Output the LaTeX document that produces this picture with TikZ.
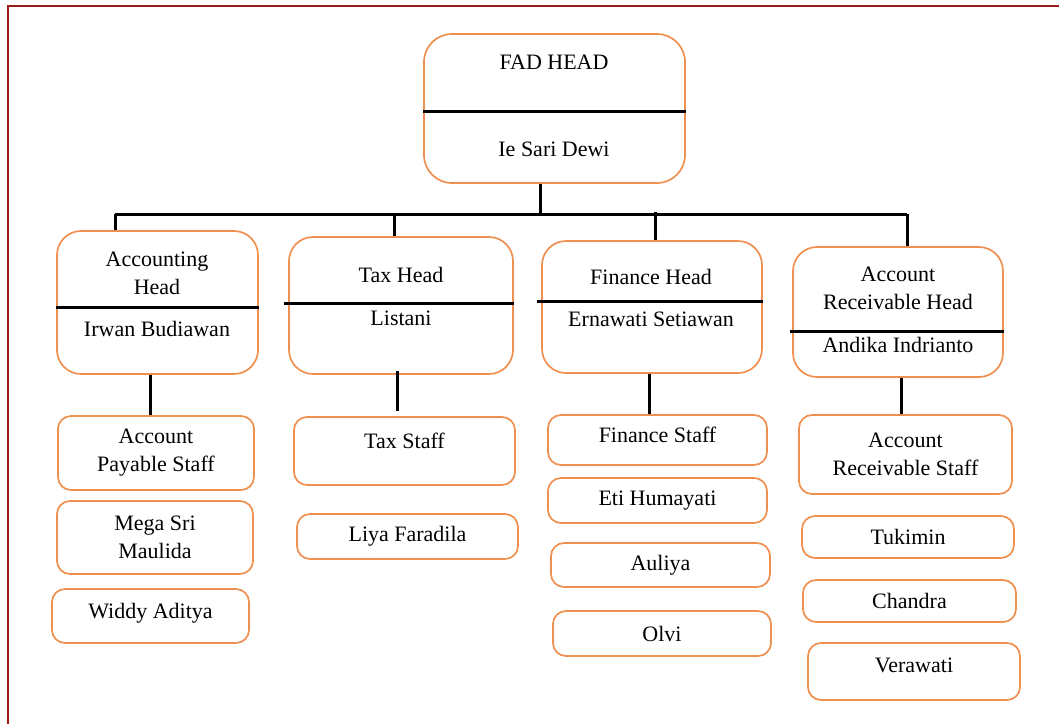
\documentclass[tikz,border=0pt]{standalone}
\usepackage{fontspec}
\setmainfont{Liberation Serif}
\usetikzlibrary{positioning, calc}

\definecolor{boxorange}{HTML}{EF8F50}
\definecolor{framered}{HTML}{9A1B1B}

\begin{document}
\begin{tikzpicture}[
    x=1pt, y=-1pt,
    font=\fontsize{22}{28}\selectfont,
    unit/.style ={draw=boxorange, line width=1.7pt, rounded corners=24pt,
                  align=center, inner sep=2pt},
    head/.style ={unit},
    staff/.style={unit, rounded corners=13pt},
    txt/.style  ={align=center, inner sep=0pt},
    link/.style ={line width=3pt, black},
    divider/.style={line width=3pt, black}
  ]
  \useasboundingbox (0,0) rectangle (1059,724);

  % ---- page frame -------------------------------------------------------
  \draw[framered, line width=2pt] (1059,6) -- (8,6) -- (8,724);

  % ---- top: FAD head ------------------------------------------------------
  \node[head, rounded corners=28pt, minimum width=261pt, minimum height=149pt]
        (fad) at (554.5,108.5) {};
  \node[txt] (fadT) at (554,62)  {FAD HEAD};
  \node[txt] (fadN) at (554,149) {Ie Sari Dewi};
  \draw[divider] (fad.west |- 0,111) -- (fad.east |- 0,111);

  % ---- row 1: department heads --------------------------------------------
  \node[head, minimum width=201pt, minimum height=143pt] (acc) at (157.5,302.5) {};
  \node[txt] (accT) at (157,273) {Accounting\\Head};
  \node[txt] (accN) at (157,329) {Irwan Budiawan};
  \draw[divider] (acc.west |- 0,307) -- (acc.east |- 0,307);

  \node[head, minimum width=224pt, minimum height=137pt] (tax) at (401,305.5) {};
  \node[txt] (taxT) at (401,275) {Tax Head};
  \node[txt] (taxN) at (401,318) {Listani};
  \draw[divider] ([xshift=-4pt]tax.west |- 0,303) -- (tax.east |- 0,303);

  \node[head, minimum width=220pt, minimum height=132pt] (fin) at (652,307) {};
  \node[txt] (finT) at (651,277) {Finance Head};
  \node[txt] (finN) at (651,319) {Ernawati Setiawan};
  \draw[divider] ([xshift=-4pt]fin.west |- 0,301) -- (fin.east |- 0,301);

  \node[head, minimum width=210pt, minimum height=130pt] (ar) at (898,312) {};
  \node[txt] (arT) at (898,288) {Account\\Receivable Head};
  \node[txt] (arN) at (898,345) {Andika Indrianto};
  \draw[divider] ([xshift=-2pt]ar.west |- 0,331) -- (ar.east |- 0,331);

  % ---- row 2+: staff ------------------------------------------------------
  \node[staff, minimum width=196pt, minimum height=74pt] (aps)   at (156,453)   {Account\\Payable Staff};
  \node[staff, minimum width=196pt, minimum height=73pt] (mega)  at (155,537.5) {Mega Sri\\Maulida};
  \node[staff, minimum width=197pt, minimum height=54pt, text depth=10pt] (widdy) at (150.5,616) {Widdy Aditya};

  \node[staff, minimum width=221pt, minimum height=68pt, text depth=21pt] (taxs) at (404.5,451) {Tax Staff};
  \node[staff, minimum width=221pt, minimum height=45pt] (liya)  at (407.5,536.5) {Liya Faradila};

  \node[staff, minimum width=219pt, minimum height=50pt, text depth=10pt] (fins) at (657.5,440) {Finance Staff};
  \node[staff, minimum width=219pt, minimum height=45pt] (eti)   at (657.5,500.5) {Eti Humayati};
  \node[staff, minimum width=219pt, minimum height=44pt] (auliya) at (660.5,565) {Auliya};
  \node[staff, minimum width=218pt, minimum height=45pt] (olvi)  at (662,633.5) {Olvi};

  \node[staff, minimum width=213pt, minimum height=79pt] (ars)   at (905.5,454.5) {Account\\Receivable Staff};
  \node[staff, minimum width=212pt, minimum height=42pt] (tuk)   at (908,537)   {Tukimin};
  \node[staff, minimum width=213pt, minimum height=42pt] (chan)  at (909.5,601) {Chandra};
  \node[staff, minimum width=212pt, minimum height=57pt, text depth=13pt] (vera) at (914,671.5) {Verawati};

  % ---- FAD head -> bus -> department heads --------------------------------
  \coordinate (hub) at (540,214);
  \coordinate (d1)  at (115,214);
  \coordinate (d2)  at (394,214);
  \coordinate (d3)  at (655,212);
  \coordinate (d4)  at (907,214);

  \draw[link] (fad.south -| hub) -- (hub);
  \draw[link] (d1) -- (hub) -- (d4);
  \draw[link] (d1) -- (d1 |- acc.north);
  \draw[link] (d2) -- (d2 |- tax.north);
  \draw[link] (d3) -- (d3 |- fin.north);
  \draw[link] (d4) -- (d4 |- ar.north);

  % ---- heads -> first staff box -------------------------------------------
  \draw[link] ([xshift=-7pt]acc.south) -- ([xshift=-7pt]acc.south |- aps.north);
  \draw[link] ([xshift=-4pt,yshift=4pt]tax.south) -- ([xshift=-4pt,yshift=5pt]tax.south |- taxs.north);
  \draw[link] ([xshift=-3pt]fin.south) -- ([xshift=-3pt]fin.south |- fins.north);
  \draw[link] ([xshift=3pt]ar.south) -- ([xshift=3pt]ar.south |- ars.north);

\end{tikzpicture}
\end{document}
